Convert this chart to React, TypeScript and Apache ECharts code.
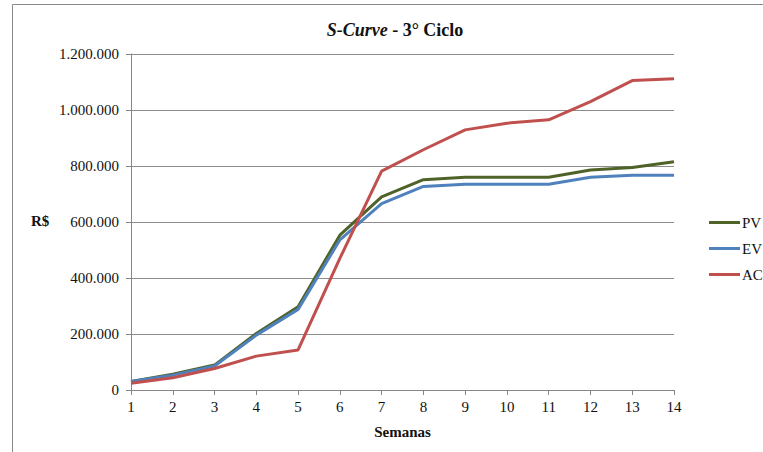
import React, { useEffect, useRef } from "react";
import * as echarts from "echarts";

// Weekly cumulative values (R$)
const weeks = ["1", "2", "3", "4", "5", "6", "7", "8", "9", "10", "11", "12", "13", "14"];
const pv = [30000, 56000, 89000, 202000, 297000, 553000, 690000, 751000, 760000, 760000, 760000, 786000, 795000, 815000];
const ev = [30000, 53000, 86000, 196000, 288000, 536000, 666000, 727000, 735000, 735000, 735000, 760000, 767000, 767000];
const ac = [24000, 44000, 77000, 121000, 143000, 470000, 782000, 858000, 929000, 953000, 965000, 1030000, 1105000, 1112000];
const yTicks = { min: 0, max: 1200000, interval: 200000 };

const FONT = "Liberation Serif";

const fmt = (v: number) => String(Math.round(v)).replace(/\B(?=(\d{3})+(?!\d))/g, ".");

export default function App() {
  const ref = useRef<HTMLDivElement>(null);

  useEffect(() => {
    if (!ref.current) return;
    const chart = echarts.init(ref.current, undefined, { renderer: "svg" });
    const lineSeries = (name: string, data: number[], color: string) => ({
      name,
      type: "line",
      data,
      symbol: "none",
      lineStyle: { color, width: 3 },
      itemStyle: { color },
    });
    chart.setOption({
      animation: false,
      backgroundColor: "#fff",
      textStyle: { fontFamily: FONT },
      title: {
        text: "{i|S-Curve}{n| - 3° Ciclo}",
        left: 390,
        top: 16,
        textAlign: "center",
        textStyle: {
          rich: {
            i: { fontFamily: FONT, fontSize: 18, fontWeight: "bold", fontStyle: "italic", color: "#111" },
            n: { fontFamily: FONT, fontSize: 18, fontWeight: "bold", color: "#111" },
          },
        },
      },
      graphic: [
        {
          type: "rect",
          shape: { x: 12.5, y: 4.5, width: 800, height: 600 },
          style: { fill: "none", stroke: "#8a8a8a", lineWidth: 1 },
          silent: true,
        },
        {
          type: "text",
          left: 31,
          top: 213,
          style: { text: "R$", fontFamily: FONT, fontSize: 15, fontWeight: "bold", fill: "#111" },
        },
      ],
      legend: {
        orient: "vertical",
        left: 704,
        top: 210,
        icon: "rect",
        itemWidth: 31,
        itemHeight: 3,
        itemGap: 11,
        textStyle: { fontFamily: FONT, fontSize: 15, color: "#111", padding: [0, 0, 0, -3] },
        data: ["PV", "EV", "AC"],
      },
      grid: { left: 131, right: 89, top: 54, bottom: 62 },
      xAxis: {
        type: "category",
        data: weeks,
        boundaryGap: false,
        name: "Semanas",
        nameLocation: "middle",
        nameGap: 34,
        nameTextStyle: { fontFamily: FONT, fontSize: 15, fontWeight: "bold", color: "#111" },
        axisLine: { lineStyle: { color: "#868686", width: 1 } },
        axisTick: { show: true, length: 5, lineStyle: { color: "#868686" } },
        axisLabel: { fontFamily: FONT, fontSize: 15, color: "#111", margin: 9 },
        splitLine: { show: false },
      },
      yAxis: {
        type: "value",
        ...yTicks,
        axisLine: { show: true, lineStyle: { color: "#868686", width: 1 } },
        axisTick: { show: true, length: 5, lineStyle: { color: "#868686" } },
        axisLabel: { fontFamily: FONT, fontSize: 15, color: "#111", margin: 12, formatter: (v: number) => fmt(v) },
        splitLine: { show: true, lineStyle: { color: "#8c8c8c", width: 1 } },
      },
      series: [
        lineSeries("PV", pv, "#4F6228"),
        lineSeries("EV", ev, "#4F81BD"),
        lineSeries("AC", ac, "#C0504D"),
      ],
    });
    return () => chart.dispose();
  }, []);

  return (
    <div
      ref={ref}
      style={{ position: "absolute", left: 0, top: 0, width: 763, height: 452 }}
    />
  );
}
